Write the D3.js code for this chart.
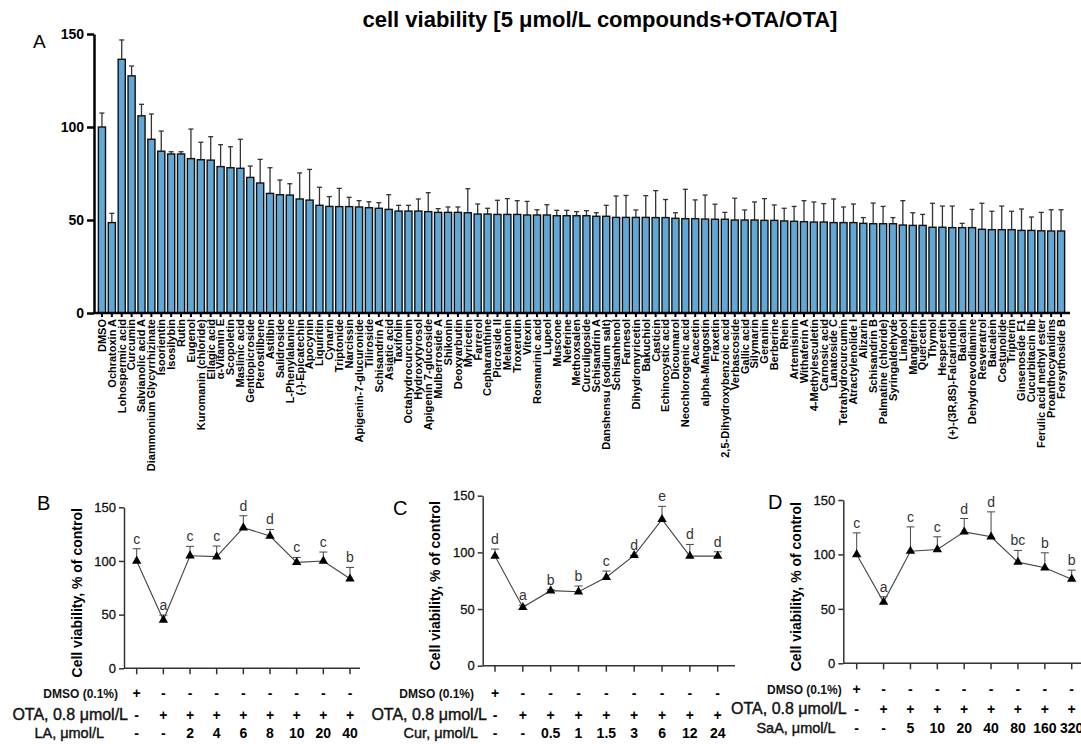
<!DOCTYPE html>
<html>
<head>
<meta charset="utf-8">
<script src="https://cdn.jsdelivr.net/npm/d3@7"></script>
<style>
body{margin:0;background:#fff;}
svg{display:block;font-family:"Liberation Sans",Arial,sans-serif;}
</style>
</head>
<body>
<div id="chart"></div>
<script>
// panel A: 5 umol/L compounds + OTA
var compounds = ["DMSO","Ochratoxin A","Lohospermic acid","Curcumin","Salvianolic acid A","Diammonium Glycyrrhizinate",
	"Isoorientin","Isosilybin","Rutin","Eugenol","Kuromanin (chloride)","Ellagic acid","α-Vitamin E","Scopoletin",
	"Maslinic acid","Gentiopicroside","Pterostilbene","Astilbin","Salidroside","L-Phenylalanine","(-)-Epicatechin",
	"Apocynin","Liquiritin","Cynarin","Triptonide","Narcissin","Apigenin-7-glucuronide","Tiliroside","Schisandrin A",
	"Asiatic acid","Taxifolin","Octahydrocurcumin","Hydroxytyrosol","Apigenin 7-glucoside","Mulberroside A","Shikonin",
	"Deoxyarbutin","Myricetin","Farrerol","Cepharanthine","Picroside II","Melatonin","Troxerutin","Vitexin",
	"Rosmarinic acid","Lupeol","Muscone","Neferine","Methoxsalen","Curculigoside","Schisandrin A",
	"Danshensu (sodium salt)","Schisanhenol","Farnesol","Dihydromyricetin","Bakuchiol","Casticin","Echinocystic acid",
	"Dicoumarol","Neochlorogenic acid","Acacetin","alpha-Mangostin","Fraxetin","2,5-Dihydroxybenzoic acid",
	"Verbascoside","Gallic acid","Silymarin","Geraniin","Berberine","Rhein","Artemisinin","Withaferin A",
	"4-Methylesculetin","Carnosic acid","Lanatoside C","Tetrahydrocurcumin","Atractylenolide I","Alizarin",
	"Schisandrin B","Palmatine (chloride)","Syringaldehyde","Linalool","Mangiferin","Quercetin","Thymol","Hesperetin",
	"(+)-(3R,8S)-Falcarindiol","Baicalin","Dehydroevodiamine","Resveratrol","Baicalein","Costunolide","Tripterin",
	"Ginsenoside F1","Cucurbitacin IIb","Ferulic acid methyl ester","Proanthocyanidins","Forsythoside B"]
var viability = [100,48.6,136.4,127.5,106,93.4,87,85.5,85.5,83,82.4,82.2,78.7,78.1,77.8,72.9,69.9,64.3,63.6,63.4,
	61.3,60.7,57.9,57.3,57.2,57.2,57,56.6,56.3,55.7,54.8,54.8,54.8,54.5,54.1,54.1,54.1,53.9,53.2,53.2,53,53,53,
	52.7,52.7,52.7,52.3,52.3,52.3,52.3,52,52,51.4,51.4,51.4,51.4,51.3,51.3,50.9,50.7,50.7,50.5,50.4,50.4,50,50,50,
	49.8,49.8,49.5,49.3,49.1,48.9,48.9,48.6,48.6,48.6,48.2,48,48,48,47.3,47.1,47.1,46.1,46.1,45.9,45.9,45.9,45,
	44.8,44.8,44.8,44.4,44.4,44.2,44.1,44.1]
var viabilitySd = [7.5,5,10.4,5.3,6.2,13.6,10.8,1.2,1.2,15.9,9.4,12.6,11.8,11.3,15.6,6.1,12.7,13.8,7.9,6.1,14,16.5,
	9.7,5.3,9.8,5,3.4,3.2,3,7.9,3.1,3.1,6.5,10.2,2,2.9,2.9,12.9,5.4,3.1,7.6,8.5,7.4,7.3,2.8,5.5,2.9,2.9,2.2,2.7,1.9,
	5.9,11.5,11.8,4,11.7,14.5,9.7,3,15.8,10.1,12.9,8.1,3.7,11.7,5.4,9.7,11.7,8.3,6.8,8,11.3,10.8,9.9,12.7,8.4,10,
	3.1,11.1,9.3,3.3,13.1,6.8,5.9,12.9,11.4,11.6,2.3,9.8,14,9.9,12.7,9.9,11.5,7.2,9.9,11.4,11.4]
var yTicks = [0,50,100,150]

// panels B-D: dose response
var dmsoRow = ["+","-","-","-","-","-","-","-","-"]
var otaRow = ["-","+","+","+","+","+","+","+","+"]

var laDoses = ["-","-","2","4","6","8","10","20","40"]
var laMeans = [100,45,104.9,104,131,123.2,98.7,100,83.4]
var laSd = [11.4,4.6,8.7,9.9,11.1,6.2,4.6,8.3,10.6]
var laLetters = ["c","a","c","c","d","d","c","c","b"]

var curDoses = ["-","-","0.5","1","1.5","3","6","12","24"]
var curMeans = [96.7,51.5,66.2,65.3,78,97.4,129.1,96.7,96.7]
var curSd = [6.2,1.8,0.8,5,5.5,0,11.5,10.3,3.8]
var curLetters = ["d","a","b","b","c","d","e","d","d"]

var saaDoses = ["-","-","5","10","20","40","80","160","320"]
var saaMeans = [100,56.2,103,104.6,120.7,116.2,92.9,87.7,77.3]
var saaSd = [19.8,4.9,22.3,11.6,12.3,22.9,10.8,13.8,8.3]
var saaLetters = ["c","a","c","c","d","d","bc","b","b"]

var svg = d3.select("#chart").append("svg")
	.attr("width", 1081)
	.attr("height", 744)

function buildTopBars(){
	var idx = compounds.map(function(d,i){ return i })
	var x = d3.scaleBand().domain(idx).range([97,1066]).paddingInner(0.28).paddingOuter(0.14)
	var y = d3.scaleLinear().domain([0,150]).range([313,34])

	svg.append("text")
		.attr("x", 600).attr("y", 27)
		.attr("text-anchor", "middle")
		.style("font-size", "22px").style("font-weight", "bold")
		.text("cell viability [5 μmol/L compounds+OTA/OTA]")

	svg.append("text")
		.attr("x", 33).attr("y", 48)
		.style("font-size", "19px")
		.text("A")

	// error bars first so bars sit over the stem
	var err = svg.append("g").attr("stroke", "#333").attr("stroke-width", 1.3)
	err.selectAll(".stem")
		.data(idx)
		.enter().append("line")
		.attr("x1", function(i){ return x(i) + x.bandwidth()/2 })
		.attr("x2", function(i){ return x(i) + x.bandwidth()/2 })
		.attr("y1", function(i){ return y(viability[i]) })
		.attr("y2", function(i){ return y(viability[i] + viabilitySd[i]) })
	err.selectAll(".cap")
		.data(idx)
		.enter().append("line")
		.attr("x1", function(i){ return x(i) + x.bandwidth()/2 - 2.5 })
		.attr("x2", function(i){ return x(i) + x.bandwidth()/2 + 2.5 })
		.attr("y1", function(i){ return y(viability[i] + viabilitySd[i]) })
		.attr("y2", function(i){ return y(viability[i] + viabilitySd[i]) })

	svg.selectAll(".bar")
		.data(idx)
		.enter().append("rect")
		.attr("class", "bar")
		.attr("x", function(i){ return x(i) })
		.attr("y", function(i){ return y(viability[i]) })
		.attr("width", x.bandwidth())
		.attr("height", function(i){ return y(0) - y(viability[i]) })
		.attr("fill", "#62a8d6")
		.attr("stroke", "#111")
		.attr("stroke-width", 1.4)

	var xAxis = svg.append("g")
		.attr("transform", "translate(0,313)")
		.call(d3.axisBottom(x).tickSize(4).tickFormat(function(i){ return compounds[i] }))
	xAxis.select(".domain").remove()
	xAxis.selectAll(".tick line").attr("stroke-width", 2).attr("stroke", "#000")
	xAxis.selectAll("text")
		.attr("transform", "rotate(-90)")
		.attr("text-anchor", "end")
		.attr("x", -6).attr("y", 0).attr("dy", "0.35em")
		.attr("fill", "#000")
		.style("font-size", "11px").style("font-weight", "bold")
	svg.append("line")
		.attr("x1", 93).attr("x2", 1070)
		.attr("y1", 313).attr("y2", 313)
		.attr("stroke", "#000").attr("stroke-width", 2.5)

	var yAxis = svg.append("g")
		.attr("transform", "translate(94,0)")
		.call(d3.axisLeft(y).tickValues(yTicks).tickSize(7).tickSizeOuter(0))
	yAxis.select(".domain").attr("stroke-width", 2.5)
	yAxis.selectAll(".tick line").attr("stroke-width", 2.5)
	yAxis.selectAll("text")
		.attr("fill", "#000")
		.style("font-size", "14px").style("font-weight", "bold")
}

function buildPanel(opt){
	var n = opt.means.length
	var idx = d3.range(n)
	var x = d3.scalePoint().domain(idx).range(opt.pts)
	var y = d3.scaleLinear().domain([0,150]).range([opt.y0, opt.y150])
	var g = svg.append("g")

	g.append("text")
		.attr("x", opt.tag[0]).attr("y", opt.tag[1])
		.style("font-size", "20px")
		.text(opt.name)

	var yAxis = g.append("g")
		.attr("transform", "translate(" + opt.axisX + ",0)")
		.call(d3.axisLeft(y).tickValues(yTicks).tickSize(5).tickSizeOuter(0))
	yAxis.selectAll("path,line").attr("stroke", "#333").attr("stroke-width", 1.5)
	yAxis.selectAll("text")
		.attr("fill", "#111")
		.attr("stroke", "#111").attr("stroke-width", 0.3)
		.style("font-size", "13px")

	g.append("line")
		.attr("x1", opt.axisX).attr("x2", opt.xEnd)
		.attr("y1", opt.y0).attr("y2", opt.y0)
		.attr("stroke", "#333").attr("stroke-width", 1.5)
	g.selectAll(".xtick")
		.data(idx)
		.enter().append("line")
		.attr("x1", function(i){ return x(i) }).attr("x2", function(i){ return x(i) })
		.attr("y1", opt.y0).attr("y2", opt.y0 + 6)
		.attr("stroke", "#333").attr("stroke-width", 1.5)

	g.append("text")
		.attr("transform", "translate(" + opt.titleX + "," + ((opt.y0 + opt.y150)/2 + 5) + ") rotate(-90)")
		.attr("text-anchor", "middle")
		.style("font-size", "14px").style("font-weight", "bold")
		.text("Cell viability, % of control")

	// error bars
	g.selectAll(".stem")
		.data(idx)
		.enter().append("line")
		.attr("x1", function(i){ return x(i) }).attr("x2", function(i){ return x(i) })
		.attr("y1", function(i){ return y(opt.means[i]) })
		.attr("y2", function(i){ return y(opt.means[i] + opt.sd[i]) })
		.attr("stroke", "#444").attr("stroke-width", 1)
	g.selectAll(".cap")
		.data(idx)
		.enter().append("line")
		.attr("x1", function(i){ return x(i) - 4 }).attr("x2", function(i){ return x(i) + 4 })
		.attr("y1", function(i){ return y(opt.means[i] + opt.sd[i]) })
		.attr("y2", function(i){ return y(opt.means[i] + opt.sd[i]) })
		.attr("stroke", "#444").attr("stroke-width", 1)

	var line = d3.line()
		.x(function(i){ return x(i) })
		.y(function(i){ return y(opt.means[i]) })
	g.append("path")
		.datum(idx)
		.attr("d", line)
		.attr("fill", "none")
		.attr("stroke", "#444").attr("stroke-width", 1.1)

	g.selectAll(".pt")
		.data(idx)
		.enter().append("path")
		.attr("d", d3.symbol().type(d3.symbolTriangle).size(38))
		.attr("transform", function(i){ return "translate(" + x(i) + "," + y(opt.means[i]) + ")" })
		.attr("fill", "#000")

	g.selectAll(".letter")
		.data(idx)
		.enter().append("text")
		.attr("x", function(i){ return x(i) })
		.attr("y", function(i){ return y(opt.means[i] + opt.sd[i]) - 5 })
		.attr("text-anchor", "middle")
		.attr("fill", "#333")
		.style("font-size", "14px")
		.text(function(i){ return opt.letters[i] })

	// treatment table under the axis
	var rows = [
		{label: "DMSO (0.1%)", cells: dmsoRow, size: 12, bold: true},
		{label: "OTA, 0.8 μmol/L", cells: otaRow, size: 16, bold: false},
		{label: opt.doseLabel, cells: opt.doses, size: 14.5, bold: false}
	]
	rows.forEach(function(r, k){
		g.append("text")
			.attr("x", opt.labelEnds[k]).attr("y", opt.rowY[k])
			.attr("text-anchor", "end")
			.attr("fill", "#111")
			.attr("stroke", r.bold ? "none" : "#111").attr("stroke-width", 0.4)
			.style("font-size", r.size + "px")
			.style("font-weight", r.bold ? "bold" : "normal")
			.text(r.label)
		g.selectAll(".cell" + k)
			.data(idx)
			.enter().append("text")
			.attr("x", function(i){ return x(i) })
			.attr("y", opt.rowY[k])
			.attr("text-anchor", "middle")
			.style("font-size", "14px").style("font-weight", "bold")
			.text(function(i){ return r.cells[i] })
	})
}

buildTopBars()

buildPanel({name: "B", tag: [37, 510], means: laMeans, sd: laSd, letters: laLetters, doses: laDoses,
	doseLabel: "LA, μmol/L", axisX: 124, xEnd: 360, pts: [136.7, 350], y0: 668.3, y150: 507.3,
	titleX: 82, rowY: [698, 720, 738], labelEnds: [118, 128, 104]})
buildPanel({name: "C", tag: [393, 515], means: curMeans, sd: curSd, letters: curLetters, doses: curDoses,
	doseLabel: "Cur, μmol/L", axisX: 482.7, xEnd: 735, pts: [495, 717.7], y0: 665.7, y150: 495.7,
	titleX: 440, rowY: [698, 720, 738], labelEnds: [474, 487, 478]})
buildPanel({name: "D", tag: [768, 509], means: saaMeans, sd: saaSd, letters: saaLetters, doses: saaDoses,
	doseLabel: "SaA, μmol/L", axisX: 843.3, xEnd: 1081, pts: [856.7, 1071.7], y0: 663.3, y150: 500,
	titleX: 801, rowY: [694, 714, 733], labelEnds: [841.7, 846.7, 835.7]})
</script>
</body>
</html>
